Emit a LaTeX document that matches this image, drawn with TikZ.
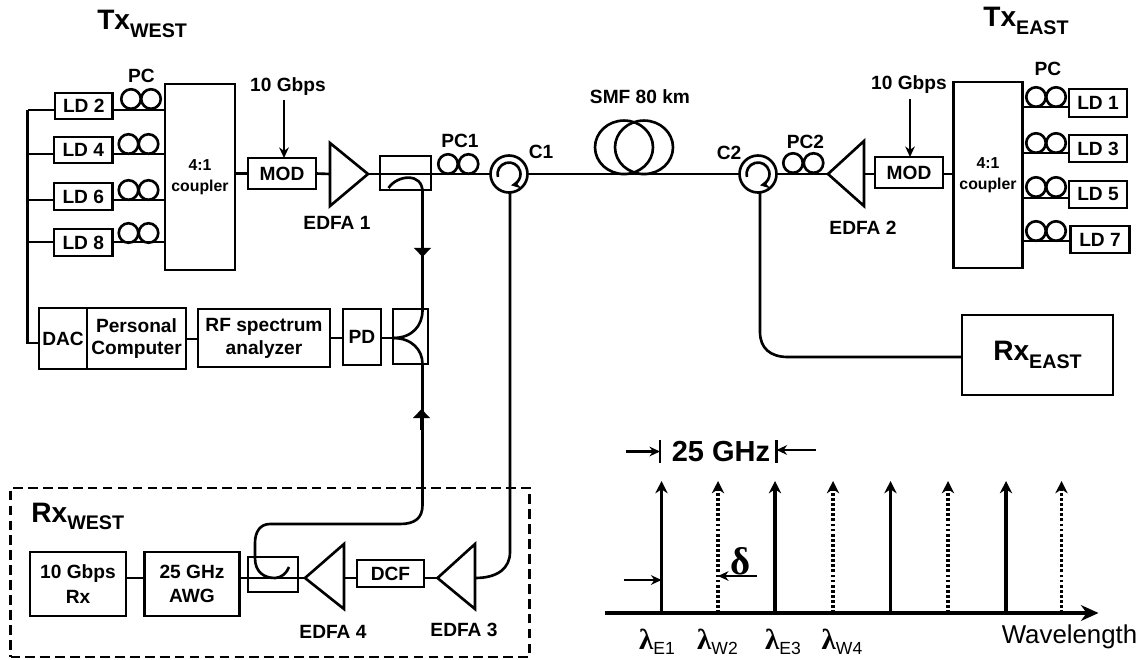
\documentclass[tikz,border=0pt]{standalone}
\usepackage{fontspec}
\setmainfont{Liberation Sans}
\newfontfamily\greekfont{Liberation Serif}
\usetikzlibrary{arrows.meta,shapes.geometric}
\newcommand{\px}{0.02cm}
\newcommand{\tagname}[2]{{\fontsize{16}{16}\selectfont #1}\raisebox{-4.5pt}{\fontsize{11.2}{12}\selectfont #2}}
\newcommand{\lam}[1]{{\greekfont\bfseries\fontsize{16.5}{17}\selectfont λ}\raisebox{-3pt}{\fontsize{10}{10}\selectfont\mdseries #1}}
\tikzset{
    optbox/.style={draw, inner sep=0pt, outer sep=0pt, align=center},
    wh/.style 2 args={minimum width=#1*\px, minimum height=#2*\px},
    lbl/.style={inner sep=0pt, align=center},
    loopc/.style={draw, circle, inner sep=0pt, outer sep=0pt, minimum size=19.5*\px},
    circ/.style={draw, circle, inner sep=0pt, outer sep=0pt, minimum size=37*\px},
    span/.style={draw, ellipse, inner sep=0pt, outer sep=0pt, minimum width=58*\px, minimum height=53.5*\px},
    stick/.style={line width=1.9pt, -{Stealth[length=7pt,width=7pt]}},
    dotstick/.style={line width=1.8pt, dash pattern=on 1.6pt off 1.3pt, -{Stealth[length=7pt,width=7pt,sep=0pt]}},
    mark tip/.style={-{Stealth[length=6pt,width=5.5pt]}},
    flow tip/.style={-{Triangle[length=5.2pt,width=9.5pt]}}
}
\begin{document}
\begin{tikzpicture}[x=0.02cm, y=-0.02cm, line width=1.5pt, every node/.append style={font=\bfseries\fontsize{10.9}{13}\selectfont}]
    \useasboundingbox (0,0) rectangle (1145,659);
    % West transmitter
    \node[lbl, anchor=base west] (txw) at (96,30) {\tagname{Tx}{WEST}};
    \node[optbox, wh={57.5}{26}] (ld2) at (83.75,106) {LD 2};
    \node[optbox, wh={58.5}{26}] (ld4) at (83.25,150) {LD 4};
    \node[optbox, wh={58.5}{27}] (ld6) at (83.25,196.5) {LD 6};
    \node[optbox, wh={58.5}{27}] (ld8) at (83.25,242.5) {LD 8};
    \node[optbox, wh={70}{186}, font=\bfseries\fontsize{9}{11}\selectfont] (cplw) at (200,177) {4:1\\[1pt]coupler};
    \node[lbl] (pcw) at (141.5,76) {PC};
    \coordinate (busw) at (27.5,110);
    \foreach \n/\y/\xa/\xb/\yc in {2/110/131/151/99, 4/154/128.5/148.5/144, 6/200/128.5/148.5/190, 8/242/128.5/148.5/233}{
        \draw (ld\n.east |- 0,\y) -- (cplw.west |- 0,\y);
        \draw (ld\n.west |- 0,\y) -- (busw |- 0,\y);
        \node[loopc] (pcw\n a) at (\xa,\yc) {};
        \node[loopc] (pcw\n b) at (\xb,\yc) {};
    }
    \node[optbox, wh={68}{31}] (modw) at (282,173.5) {MOD};
    \node[lbl] (gbpsw) at (288,87) {10 Gbps};
    \coordinate (gbpswend) at (284,100);
    \draw[mark tip] (gbpswend) -- (gbpswend |- modw.north);
    \coordinate (edfa1) at (368,174);
    \draw (330,143) -- (330,206) -- (edfa1) -- cycle;
    \node[lbl] (edfa1lbl) at (337,223) {EDFA 1};
    \draw (cplw.east |- modw) -- (modw.west);
    \draw (modw.east) -- (330,174);
    % Line from EDFA 1 to the span
    \node[optbox, wh={51}{34}] (cplup) at (405.5,173) {};
    \node[loopc] (pc1a) at (448,164) {};
    \node[loopc] (pc1b) at (468.5,164) {};
    \node[lbl] (pc1lbl) at (460,141) {PC1};
    \node[circ] (c1) at (509,174) {};
    \node[lbl] (c1lbl) at (541,152) {C1};
    \node[circ] (c2) at (758,174) {};
    \node[lbl] (c2lbl) at (729,153) {C2};
    \draw (edfa1) -- (c1.west);
    \draw (c1.east) -- (c2.west);
    \foreach \c in {c1,c2}{
        \draw[-{Stealth[length=5.5pt,width=5.5pt]}] ([shift={(195:0.23cm)}]\c.center) arc[start angle=195, end angle=-80, radius=0.23cm];
    }
    % Fibre span
    \node[span] (smfa) at (624,147.3) {};
    \node[span] (smfb) at (644,147.3) {};
    \node[lbl] (smflbl) at (640,97) {SMF 80 km};
    % East transmitter
    \node[lbl, anchor=base west] (txe) at (982,27) {\tagname{Tx}{EAST}};
    \node[loopc] (pc2a) at (793,163) {};
    \node[loopc] (pc2b) at (813.5,163) {};
    \node[lbl] (pc2lbl) at (805.5,142) {PC2};
    \coordinate (edfa2) at (828,174);
    \draw (864,141) -- (864,206) -- (edfa2) -- cycle;
    \node[lbl] (edfa2lbl) at (863,228) {EDFA 2};
    \draw (c2.east) -- (edfa2);
    \node[optbox, wh={68}{31}] (mode) at (909,172.5) {MOD};
    \node[optbox, wh={69}{186}, font=\bfseries\fontsize{9}{11}\selectfont] (cple) at (988,175) {4:1\\[1pt]coupler};
    \draw (864,174) -- (mode.west |- 0,174);
    \draw (mode.east |- 0,174) -- (cple.west |- 0,174);
    \node[lbl] (gbpse) at (909,85) {10 Gbps};
    \coordinate (gbpseend) at (910,99);
    \draw[mark tip] (gbpseend) -- (gbpseend |- mode.north);
    \node[optbox, wh={58}{28}] (ld1) at (1098,103) {LD 1};
    \node[optbox, wh={58}{27}] (ld3) at (1098,148.5) {LD 3};
    \node[optbox, wh={58}{27}] (ld5) at (1098,194.5) {LD 5};
    \node[optbox, wh={58.5}{27}] (ld7) at (1100,239.5) {LD 7};
    \node[lbl] (pce) at (1048,69) {PC};
    \foreach \n/\y/\yc in {1/107/97, 3/153/143, 5/198/187, 7/241/231}{
        \draw (cple.east |- 0,\y) -- (ld\n.west |- 0,\y);
        \node[loopc] (pce\n a) at (1036,\yc) {};
        \node[loopc] (pce\n b) at (1056,\yc) {};
    }
    % East receiver
    \node[optbox, wh={151}{80}] (rxe) at (1037.5,355) {\tagname{Rx}{EAST}};
    \draw (c2.south -| 760,0) -- (760,332) .. controls (760,348) and (770,357) .. (788,357) -- (rxe.west |- 0,357);
    % Monitor branch
    \node[optbox, wh={48}{61}] (dac) at (63,338.5) {DAC};
    \node[optbox, wh={99}{61}] (comp) at (136.5,338.5) {Personal\\Computer};
    \node[optbox, wh={132}{58}] (rf) at (264,338) {RF spectrum\\analyzer};
    \node[optbox, wh={38}{56}] (pd) at (362,337) {PD};
    \node[optbox, wh={35}{55}] (cpllow) at (410.5,336.5) {};
    \draw (busw) -- (busw |- 0,343) -- (dac.west |- 0,343);
    \draw (comp.east |- 0,339) -- (rf.west |- 0,339);
    \draw (rf.east |- 0,338) -- (pd.west |- 0,338);
    \draw (pd.east |- 0,338) -- (cpllow.west |- 0,338);
    \draw (388.5,188) .. controls (397,175) and (422.5,172) .. (422.5,192) -- (422.5,310) .. controls (422.5,326) and (412,338) .. (cpllow.west |- 0,338);
    \draw (cpllow.west |- 0,338) .. controls (412,338) and (422.5,350) .. (422.5,364) -- (422.5,505) .. controls (422.5,518) and (415,524) .. (400,524) -- (270,524) .. controls (260,524) and (255,532) .. (255,543) -- (255,558) .. controls (255,572) and (264,578) .. (275,578) .. controls (281,578) and (287,573) .. (289,567);
    \draw[flow tip] (422.5,240) -- (422.5,257);
    \draw[flow tip] (421.5,430) -- (421.5,409);
    % West receiver
    \node[optbox, wh={519}{169}, dash pattern=on 5.5pt off 3pt] (rxw) at (270,572.5) {};
    \node[lbl, anchor=base west] (rxwlbl) at (30,522) {\tagname{Rx}{WEST}};
    \node[optbox, wh={96}{64}] (rx) at (78,584) {10 Gbps\\[1pt]Rx};
    \node[optbox, wh={94.5}{64}] (awg) at (192,584) {25 GHz\\[1pt]AWG};
    \node[optbox, wh={50}{35}] (cplrx) at (273,574.5) {};
    \node[optbox, wh={67}{27}] (dcf) at (390.5,573.5) {DCF};
    \coordinate (edfa4) at (305,578);
    \draw (344,544) -- (344,609) -- (edfa4) -- cycle;
    \coordinate (edfa3) at (437.5,578);
    \draw (475,544) -- (475,609) -- (edfa3) -- cycle;
    \node[lbl] (edfa4lbl) at (333,632) {EDFA 4};
    \node[lbl] (edfa3lbl) at (464,630) {EDFA 3};
    \draw (rx.east |- 0,578) -- (awg.west |- 0,578);
    \draw (awg.east |- 0,578) -- (edfa4);
    \draw (344,578) -- (dcf.west |- 0,578);
    \draw (dcf.east |- 0,578) -- (edfa3);
    \draw (c1.south -| 510,0) -- (510,552) .. controls (510,568) and (498,578) .. (475,578);
    % Channel plan
    \coordinate (axl) at (605,613);
    \coordinate (axr) at (1098.5,613);
    \draw[line width=2.2pt, -{Stealth[length=10pt,width=9pt]}] (axl) -- (axr);
    \foreach \i/\x in {1/661.5,3/775,5/890.5,7/1006}{
        \coordinate (ft\i) at (\x,613);
        \draw[stick] (ft\i) -- (\x,481);
    }
    \foreach \i/\x in {2/718,4/833,6/948,8/1061.5}{
        \coordinate (ft\i) at (\x,613);
        \draw[dotstick] (ft\i) -- (\x,481);
    }
    \node[inner sep=0pt, font=\bfseries\fontsize{16.5}{17}\selectfont] (ghz) at (721,452) {25 GHz};
    \coordinate (tla) at (660,440);
    \coordinate (tlb) at (660,463);
    \coordinate (tra) at (776.5,440);
    \coordinate (trb) at (776.5,463);
    \draw[line width=1.2pt] (tla) -- (tlb);
    \draw[line width=1.2pt] (tra) -- (trb);
    \coordinate (gl) at (625.5,451.5);
    \coordinate (gr) at (816,450);
    \draw[mark tip] (gl) -- (gl -| tla);
    \draw[mark tip] (gr) -- (gr -| tra);
    \node[inner sep=0pt, font=\greekfont\bfseries\fontsize{22}{22}\selectfont] (dlt) at (741,561) {δ};
    \coordinate (dl) at (623.5,580);
    \coordinate (dr) at (757,576);
    \draw[mark tip] (dl) -- (dl -| ft1);
    \draw[mark tip] (dr) -- (dr -| ft2);
    \node[inner sep=0pt] (le1) at (657,642) {\lam{E1}};
    \node[inner sep=0pt] (lw2) at (717.5,642) {\lam{W2}};
    \node[inner sep=0pt] (le3) at (783,642) {\lam{E3}};
    \node[inner sep=0pt] (lw4) at (842,642) {\lam{W4}};
    \node[inner sep=0pt, font=\mdseries\fontsize{14.7}{15}\selectfont] (wl) at (1069.5,637) {Wavelength};
\end{tikzpicture}
\end{document}
